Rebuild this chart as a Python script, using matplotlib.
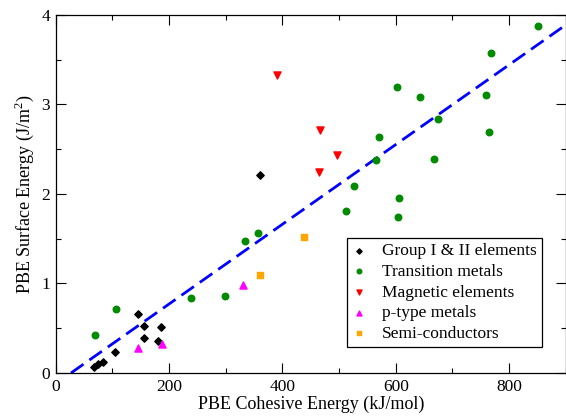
import matplotlib
matplotlib.use("Agg")
import matplotlib.pyplot as plt
from matplotlib.ticker import MultipleLocator

plt.rcParams['font.family'] = ['Liberation Serif', 'DejaVu Serif']
plt.rcParams['mathtext.fontset'] = 'custom'
plt.rcParams['mathtext.rm'] = 'Liberation Serif'

# Cohesive energy (kJ/mol) vs surface energy (J/m^2), by element class
group12_x = [360, 145, 155, 185, 155, 180, 105, 83, 74, 68]
group12_y = [2.21, 0.66, 0.525, 0.515, 0.39, 0.36, 0.24, 0.127, 0.097, 0.07]

transition_x = [70, 106, 239, 299, 334, 357, 513, 527, 566, 570, 604, 606,
                602, 642, 668, 675, 759, 765, 769, 851]
transition_y = [0.425, 0.715, 0.838, 0.864, 1.48, 1.56, 1.81, 2.086, 2.38,
                2.64, 1.746, 1.95, 3.19, 3.08, 2.39, 2.84, 3.11, 2.69, 3.575, 3.88]

magnetic_x = [390, 467, 496, 465]
magnetic_y = [3.33, 2.72, 2.44, 2.25]

ptype_x = [146, 188, 330]
ptype_y = [0.276, 0.32, 0.98]

semicond_x = [360, 439]
semicond_y = [1.10, 1.516]

# Linear fit: y = slope * (x - x0)
fit_x0 = 27.0
fit_slope = 0.004454

fig = plt.figure(figsize=(5.66, 4.16), dpi=100)
ax = fig.add_axes([0.0984, 0.1034, 0.9011, 0.8606])

ax.scatter(group12_x, group12_y, marker='D', s=14, color='black', zorder=3,
           label='Group I & II elements')
ax.scatter(transition_x, transition_y, marker='o', s=22, color='#008b00', zorder=3,
           label='Transition metals')
ax.scatter(magnetic_x, magnetic_y, marker='v', s=26, color='#ff0000', zorder=3,
           label='Magnetic elements')
ax.scatter(ptype_x, ptype_y, marker='^', s=26, color='#ff00ff', zorder=3,
           label='p-type metals')
ax.scatter(semicond_x, semicond_y, marker='s', s=16, color='#ffa500', zorder=3,
           label='Semi-conductors')

ax.axline((fit_x0, 0.0), slope=fit_slope, color='#0000ff', lw=2.0,
          dashes=(5.5, 2.6), zorder=2)

ax.set_xlim(0, 900)
ax.set_ylim(0, 4)
ax.xaxis.set_major_locator(MultipleLocator(200))
ax.xaxis.set_minor_locator(MultipleLocator(100))
ax.yaxis.set_major_locator(MultipleLocator(1))
ax.yaxis.set_minor_locator(MultipleLocator(0.5))
ax.tick_params(which='both', direction='in', top=True, right=True, width=0.8,
               labelsize=12.5, pad=4)
ax.tick_params(which='major', length=7)
ax.tick_params(which='minor', length=3.6)
for sp in ax.spines.values():
    sp.set_linewidth(0.9)

ax.set_xlabel('PBE Cohesive Energy (kJ/mol)', fontsize=13, labelpad=1)
ax.set_ylabel('PBE Surface Energy (J/m$^2$)', fontsize=13, labelpad=4)

leg = ax.legend(loc='lower right', bbox_to_anchor=(0.953, 0.072), fontsize=12.5,
                frameon=True, fancybox=False, edgecolor='black', framealpha=1,
                handlelength=0.8, handletextpad=0.9, borderpad=0.3,
                labelspacing=0.26, markerscale=0.7, borderaxespad=0)
leg.get_frame().set_linewidth(0.9)

fig.savefig('out.png', dpi=100)
